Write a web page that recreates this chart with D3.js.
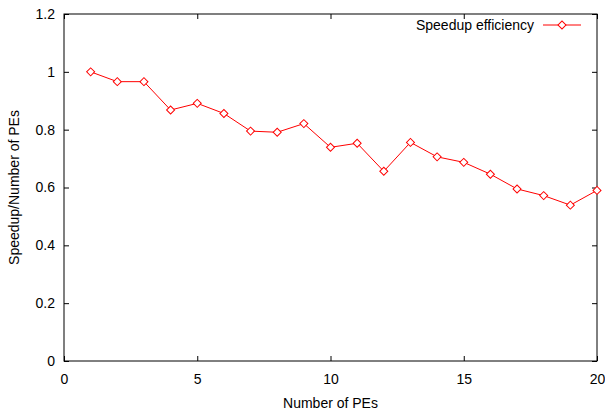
<!DOCTYPE html>
<html>
<head>
<meta charset="utf-8">
<script src="https://cdn.jsdelivr.net/npm/d3@7"></script>
<style>
  html, body { margin: 0; padding: 0; background: #fff; }
  svg text { font-family: "Liberation Sans", Arial, Helvetica, sans-serif; font-size: 14px; fill: #000; }
</style>
</head>
<body>
<svg id="chart" width="605" height="415"></svg>
<script>
// Number of processing elements and measured speedup efficiency
const pes = [1, 2, 3, 4, 5, 6, 7, 8, 9, 10, 11, 12, 13, 14, 15, 16, 17, 18, 19, 20];
const efficiency = [1.0, 0.966, 0.966, 0.868, 0.891, 0.856, 0.795, 0.791, 0.821, 0.739,
                    0.753, 0.656, 0.756, 0.706, 0.687, 0.646, 0.595, 0.572, 0.539, 0.590];
const xTicks = [0, 5, 10, 15, 20];
const yTicks = [0, 0.2, 0.4, 0.6, 0.8, 1, 1.2];
const seriesName = "Speedup efficiency";

const svg = d3.select("#chart");
const plotLeft = 64, plotRight = 597, plotTop = 14, plotBottom = 361;

const x = d3.scaleLinear().domain([0, 20]).range([plotLeft, plotRight]);
const y = d3.scaleLinear().domain([0, 1.2]).range([plotBottom, plotTop]);

const tickLen = 5;
const axisColor = "#000";

// Frame
svg.append("rect")
  .attr("x", plotLeft).attr("y", plotTop)
  .attr("width", plotRight - plotLeft).attr("height", plotBottom - plotTop)
  .attr("fill", "none").attr("stroke", axisColor).attr("stroke-width", 1);

// Bottom axis (inward ticks), mirrored on top
const xAxis = d3.axisBottom(x).tickValues(xTicks).tickSize(-tickLen).tickPadding(10)
  .tickFormat(d3.format("d"));
const gx = svg.append("g").attr("transform", `translate(0,${plotBottom})`).call(xAxis);
gx.select(".domain").remove();
gx.selectAll("text").style("font-size", "14px").attr("dy", "0.9em");

const gxTop = svg.append("g").attr("transform", `translate(0,${plotTop})`)
  .call(d3.axisTop(x).tickValues(xTicks).tickSize(-tickLen).tickFormat(""));
gxTop.select(".domain").remove();

// Left axis (inward ticks), mirrored on right
const yAxis = d3.axisLeft(y).tickValues(yTicks).tickSize(-tickLen).tickPadding(9)
  .tickFormat(d => String(+d.toFixed(1)));
const gy = svg.append("g").attr("transform", `translate(${plotLeft},0)`).call(yAxis);
gy.select(".domain").remove();
gy.selectAll("text").style("font-size", "14px");

const gyRight = svg.append("g").attr("transform", `translate(${plotRight},0)`)
  .call(d3.axisRight(y).tickValues(yTicks).tickSize(-tickLen).tickFormat(""));
gyRight.select(".domain").remove();

svg.selectAll(".tick line").attr("stroke", axisColor);

// Axis titles
svg.append("text")
  .attr("x", (plotLeft + plotRight) / 2).attr("y", 408)
  .attr("text-anchor", "middle")
  .text("Number of PEs");

svg.append("text")
  .attr("transform", `translate(19,${(plotTop + plotBottom) / 2}) rotate(-90)`)
  .attr("text-anchor", "middle")
  .text("Speedup/Number of PEs");

// Data line
const data = pes.map((p, i) => ({ p, v: efficiency[i] }));
const red = "#ff0000";

svg.append("path")
  .datum(data)
  .attr("fill", "none").attr("stroke", red).attr("stroke-width", 1)
  .attr("d", d3.line().x(d => x(d.p)).y(d => y(d.v)));

const diamond = d3.symbol().type(d3.symbolSquare).size(32);
svg.selectAll(".pt")
  .data(data)
  .join("path")
  .attr("class", "pt")
  .attr("d", diamond)
  .attr("transform", d => `translate(${x(d.p)},${y(d.v)}) rotate(45)`)
  .attr("fill", "#fff").attr("stroke", red).attr("stroke-width", 1);

// Legend
const legY = 25;
svg.append("text")
  .attr("x", 534).attr("y", legY).attr("dy", "0.35em")
  .attr("text-anchor", "end")
  .text(seriesName);
svg.append("line")
  .attr("x1", 543).attr("x2", 581).attr("y1", legY).attr("y2", legY)
  .attr("stroke", red).attr("stroke-width", 1);
svg.append("path")
  .attr("d", diamond)
  .attr("transform", `translate(562,${legY}) rotate(45)`)
  .attr("fill", "#fff").attr("stroke", red).attr("stroke-width", 1);
</script>
</body>
</html>
